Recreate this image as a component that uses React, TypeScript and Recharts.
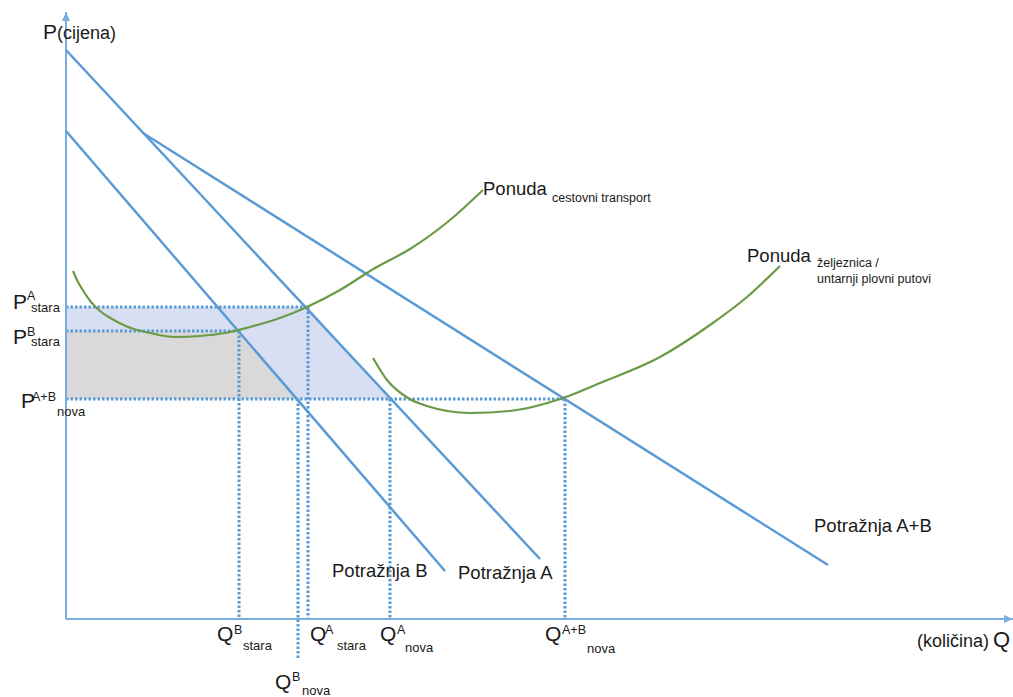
import React from "react";
import { ComposedChart, Line, Area, XAxis, YAxis, ReferenceLine, ReferenceDot } from "recharts";

const W = 1013;
const H = 697;
const FONT = "Arial, 'Liberation Sans', sans-serif";
const BLUE = "#5b9bd5";
const AXIS_BLUE = "#78aee0";
const GREEN = "#6b9a47";

// price / quantity levels (origin at the axes crossing)
const P_A_STARA = 312;
const P_B_STARA = 288;
const P_NOVA = 220;
const Q_B_STARA = 173;
const Q_B_NOVA = 232;
const Q_A_STARA = 242;
const Q_A_NOVA = 324;
const Q_AB_NOVA = 499;
const Q_B_NOVA_LOW = -40;

const AXIS_P = [{ q: 0, p: 0 }, { q: 0, p: 607 }];
const AXIS_Q = [{ q: 0, p: 0 }, { q: 947, p: 0 }];

const DEMAND_A = [{ q: 0, p: 569 }, { q: 474, p: 60 }];
const DEMAND_B = [{ q: 0, p: 488 }, { q: 379, p: 48 }];
const DEMAND_AB = [{ q: 77, p: 486 }, { q: 762, p: 54 }];

const SUPPLY_ROAD = [
  { q: 7, p: 348 }, { q: 12, p: 337 }, { q: 18, p: 327 }, { q: 25, p: 317 },
  { q: 34, p: 308 }, { q: 46, p: 300 }, { q: 62, p: 292 }, { q: 84, p: 286 },
  { q: 109, p: 282 }, { q: 134, p: 283 }, { q: 159, p: 286 }, { q: 184, p: 292 },
  { q: 214, p: 301 }, { q: 241, p: 312 }, { q: 274, p: 329 }, { q: 309, p: 351 },
  { q: 344, p: 370 }, { q: 384, p: 399 }, { q: 417, p: 429 },
];

const SUPPLY_RAIL = [
  { q: 307, p: 261 }, { q: 321, p: 239 }, { q: 342, p: 221 }, { q: 361, p: 213 },
  { q: 404, p: 206 }, { q: 444, p: 208 }, { q: 497, p: 221 }, { q: 534, p: 236 },
  { q: 594, p: 262 }, { q: 644, p: 294 }, { q: 681, p: 322 }, { q: 714, p: 353 },
];

// shaded surplus regions [low, high]
const AREA_A = [
  { q: 0, band: [P_NOVA, P_A_STARA] },
  { q: Q_A_STARA, band: [P_NOVA, P_A_STARA] },
  { q: Q_A_NOVA, band: [P_NOVA, P_NOVA] },
];
const AREA_B = [
  { q: 0, band: [P_NOVA, P_B_STARA] },
  { q: Q_B_STARA, band: [P_NOVA, P_B_STARA] },
  { q: Q_B_NOVA, band: [P_NOVA, P_NOVA] },
];

const GUIDES = [
  [{ x: 0, y: P_A_STARA }, { x: Q_A_STARA, y: P_A_STARA }],
  [{ x: 0, y: P_B_STARA }, { x: Q_B_STARA, y: P_B_STARA }],
  [{ x: 0, y: P_NOVA }, { x: Q_AB_NOVA, y: P_NOVA }],
  [{ x: Q_B_STARA, y: P_B_STARA }, { x: Q_B_STARA, y: 0 }],
  [{ x: Q_A_STARA, y: P_A_STARA }, { x: Q_A_STARA, y: 0 }],
  [{ x: Q_B_NOVA, y: P_NOVA }, { x: Q_B_NOVA, y: Q_B_NOVA_LOW }],
  [{ x: Q_A_NOVA, y: P_NOVA }, { x: Q_A_NOVA, y: 0 }],
  [{ x: Q_AB_NOVA, y: P_NOVA }, { x: Q_AB_NOVA, y: 0 }],
];

type Part = { t: string; dx: number; dy: number; fs: number; anchor?: "start" | "end" };

const P_TICKS = [
  { p: P_A_STARA, main: "P", sup: "A", sub: "stara" },
  { p: P_B_STARA, main: "P", sup: "B", sub: "stara" },
  { p: P_NOVA, main: "P", sup: "A+B", sub: "nova" },
];
const Q_TICKS = [
  { q: Q_B_STARA, main: "Q", sup: "B", sub: "stara" },
  { q: Q_A_STARA, main: "Q", sup: "A", sub: "stara" },
  { q: Q_A_NOVA, main: "Q", sup: "A", sub: "nova" },
  { q: Q_AB_NOVA, main: "Q", sup: "A+B", sub: "nova" },
  { q: Q_B_NOVA, main: "Q", sup: "B", sub: "nova" },
];

// pixel offsets of main / sup / sub text for each tick label
const P_TICK_POS = [
  [[-53, 2], [-39, -7], [-35, 5]],
  [[-53, 13], [-39, 5], [-35, 15]],
  [[-45, 9], [-34, 2], [-9, 17]],
];
const Q_TICK_POS = [
  [[-22, 22], [-5, 15], [4, 31]],
  [[2, 22], [17, 15], [29, 31]],
  [[-10, 22], [7, 15], [15, 33]],
  [[-20, 22], [-3, 15], [22, 34]],
  [[-23, 70], [-6, 62], [4, 76]],
];

const tickParts = (t: { main: string; sup: string; sub: string }, pos: number[][]): Part[] => [
  { t: t.main, dx: pos[0][0], dy: pos[0][1], fs: 21 },
  { t: t.sup, dx: pos[1][0], dy: pos[1][1], fs: 12.5 },
  { t: t.sub, dx: pos[2][0], dy: pos[2][1], fs: 13 },
];

const textShape = (parts: Part[]) => (props: any) => {
  const { cx, cy } = props;
  return (
    <g>
      {parts.map((pt, i) => (
        <text
          key={i}
          x={cx + pt.dx}
          y={cy + pt.dy}
          fontSize={pt.fs}
          fontFamily={FONT}
          fill="#1a1a1a"
          textAnchor={pt.anchor ?? "start"}
        >
          {pt.t}
        </text>
      ))}
    </g>
  );
};

const arrowDot = (dir: "up" | "right") => (props: any) => {
  const { cx, cy, index } = props;
  if (index !== 1) return <g key={`a${index}`} />;
  const pts =
    dir === "up"
      ? `${cx},${cy} ${cx - 4},${cy + 9} ${cx + 4},${cy + 9}`
      : `${cx},${cy} ${cx - 9},${cy - 4} ${cx - 9},${cy + 4}`;
  return <polygon key="arrow" points={pts} fill={AXIS_BLUE} />;
};

export default function App() {
  return (
    <div style={{ position: "absolute", left: 0, top: 0, background: "#fff" }}>
      <ComposedChart width={W} height={H} margin={{ top: 0, right: 0, bottom: 0, left: 0 }}>
        <XAxis type="number" dataKey="q" domain={[-66, 947]} allowDataOverflow hide />
        <YAxis type="number" dataKey="p" domain={[-78, 619]} allowDataOverflow hide />

        <Area data={AREA_A} dataKey="band" type="linear" stroke="none" fill="#d9dff3" fillOpacity={1} dot={false} activeDot={false} isAnimationActive={false} />
        <Area data={AREA_B} dataKey="band" type="linear" stroke="none" fill="#d9d9d9" fillOpacity={1} dot={false} activeDot={false} isAnimationActive={false} />

        {GUIDES.map((seg, i) => (
          <ReferenceLine key={i} segment={seg} stroke={BLUE} strokeWidth={3} strokeDasharray="2.5 2" />
        ))}

        <Line data={AXIS_P} dataKey="p" type="linear" stroke={AXIS_BLUE} strokeWidth={2} dot={arrowDot("up")} activeDot={false} isAnimationActive={false} />
        <Line data={AXIS_Q} dataKey="p" type="linear" stroke={AXIS_BLUE} strokeWidth={2} dot={arrowDot("right")} activeDot={false} isAnimationActive={false} />

        <Line data={DEMAND_A} dataKey="p" type="linear" stroke={BLUE} strokeWidth={2.5} dot={false} activeDot={false} isAnimationActive={false} />
        <Line data={DEMAND_B} dataKey="p" type="linear" stroke={BLUE} strokeWidth={2.5} dot={false} activeDot={false} isAnimationActive={false} />
        <Line data={DEMAND_AB} dataKey="p" type="linear" stroke={BLUE} strokeWidth={2.5} dot={false} activeDot={false} isAnimationActive={false} />
        <Line data={SUPPLY_ROAD} dataKey="p" type="monotone" stroke={GREEN} strokeWidth={2.2} dot={false} activeDot={false} isAnimationActive={false} />
        <Line data={SUPPLY_RAIL} dataKey="p" type="monotone" stroke={GREEN} strokeWidth={2.2} dot={false} activeDot={false} isAnimationActive={false} />

        {P_TICKS.map((t, i) => (
          <ReferenceDot key={`pt${i}`} x={0} y={t.p} r={0} shape={textShape(tickParts(t, P_TICK_POS[i]))} />
        ))}
        {Q_TICKS.map((t, i) => (
          <ReferenceDot key={`qt${i}`} x={t.q} y={0} r={0} shape={textShape(tickParts(t, Q_TICK_POS[i]))} />
        ))}

        <ReferenceDot x={0} y={607} r={0} shape={textShape([
          { t: "P", dx: -23, dy: 27, fs: 21 },
          { t: "(cijena)", dx: -9, dy: 27, fs: 18 },
        ])} />
        <ReferenceDot x={947} y={0} r={0} shape={textShape([
          { t: "Q", dx: -3, dy: 28, fs: 22, anchor: "end" },
          { t: "(količina)", dx: -24, dy: 28, fs: 18, anchor: "end" },
        ])} />

        <ReferenceDot x={379} y={48} r={0} shape={textShape([{ t: "Potražnja B", dx: -113, dy: 6, fs: 18.5 }])} />
        <ReferenceDot x={474} y={60} r={0} shape={textShape([{ t: "Potražnja A", dx: -82, dy: 20, fs: 18.5 }])} />
        <ReferenceDot x={762} y={54} r={0} shape={textShape([{ t: "Potražnja A+B", dx: -14, dy: -33, fs: 18.5 }])} />
        <ReferenceDot x={417} y={429} r={0} shape={textShape([
          { t: "Ponuda", dx: 0, dy: 5, fs: 18.5 },
          { t: "cestovni transport", dx: 69, dy: 12, fs: 12.5 },
        ])} />
        <ReferenceDot x={714} y={353} r={0} shape={textShape([
          { t: "Ponuda", dx: -33, dy: -4, fs: 18.5 },
          { t: "željeznica /", dx: 37, dy: 1, fs: 12.5 },
          { t: "untarnji plovni putovi", dx: 37, dy: 17, fs: 12.5 },
        ])} />
      </ComposedChart>
    </div>
  );
}
